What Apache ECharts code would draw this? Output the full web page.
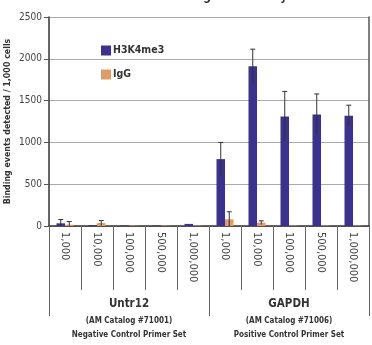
<!DOCTYPE html>
<html><head><meta charset="utf-8">
<script src="https://cdn.jsdelivr.net/npm/echarts@6/dist/echarts.min.js"></script>
<style>html,body{margin:0;padding:0;background:#fff}#c{width:372px;height:345px}</style>
</head><body><div id="c"></div>
<script>
var categories = ['1,000','10,000','100,000','500,000','1,000,000','1,000','10,000','100,000','500,000','1,000,000'];
var groups = ['Untr12','GAPDH'];
var groupCatalog = ['(AM Catalog #71001)','(AM Catalog #71006)'];
var groupDesc = ['Negative Control Primer Set','Positive Control Primer Set'];
var h3k4me3 = [32, 10, 6, 6, 25, 800, 1910, 1310, 1335, 1320];
var h3k4me3Err = [45, 0, 0, 0, 0, 200, 205, 300, 245, 125];
var igg = [15, 35, 5, 5, 5, 80, 40, 5, 5, 5];
var iggErr = [38, 30, 0, 0, 0, 90, 22, 0, 0, 0];
var yTicks = [0, 500, 1000, 1500, 2000, 2500];

var FONT = '"Liberation Sans Narrow", "DejaVu Sans Condensed", "Liberation Sans", sans-serif';
var BW = 8.5;
function errSeries(vals, errs, dx) {
  return {
    type: 'custom',
    xAxisIndex: 0, yAxisIndex: 0,
    z: 5,
    data: vals.map(function (v, i) { return [i, v, errs[i]]; }),
    renderItem: function (params, api) {
      var e = api.value(2);
      if (!e) return null;
      var v = api.value(1);
      var top = api.coord([api.value(0), v + e]);
      var bot = api.coord([api.value(0), Math.max(0, v - e)]);
      var x = top[0] + dx;
      var style = { stroke: '#333', lineWidth: 1 };
      return { type: 'group', children: [
        { type: 'line', shape: { x1: x, y1: top[1], x2: x, y2: bot[1] }, style: style },
        { type: 'line', shape: { x1: x - 2.5, y1: top[1], x2: x + 2.5, y2: top[1] }, style: style }
      ]};
    }
  };
}
var chart = echarts.init(document.getElementById('c'));
chart.setOption({
  animation: false,
  title: { text: 'ChIP-IT\u00ae High Sensitivity', left: 205, textAlign: 'center', top: -14,
    textStyle: { fontFamily: FONT, fontSize: 12, fontWeight: 'bold', color: '#333' } },
  legend: { orient: 'vertical', left: 96, top: 40, itemWidth: 10, itemHeight: 10, itemGap: 13,
    icon: 'rect', data: ['H3K4me3', 'IgG'],
    textStyle: { fontFamily: FONT, fontSize: 10.5, fontWeight: 'bold', color: '#333', padding: [0,0,0,-3] } },
  grid: { left: 49, right: 3, top: 17, bottom: 119, containLabel: false, outerBoundsMode: 'none' },
  xAxis: [{
    type: 'category', data: categories, position: 'bottom',
    axisLine: { lineStyle: { color: '#333', width: 1.5 } },
    axisTick: { show: true, length: 64, lineStyle: { color: '#666' } },
    axisLabel: { interval: 0, rotate: -90, margin: 6, fontFamily: FONT, fontSize: 11, color: '#444' }
  }, {
    type: 'category', data: groups, position: 'bottom',
    axisLine: { show: false },
    axisTick: { show: true, length: 90, lineStyle: { color: '#666' } },
    axisLabel: { interval: 0, margin: 68, fontFamily: FONT, color: '#333',
      formatter: function (v, i) { return '{a|' + v + '}\n{b|' + groupCatalog[i] + '}\n{b|' + groupDesc[i] + '}'; },
      rich: { a: { fontSize: 11.5, fontWeight: 'bold', lineHeight: 20, fontFamily: FONT, color: '#333' },
              b: { fontSize: 8, fontWeight: 'bold', lineHeight: 14, fontFamily: FONT, color: '#333' } } }
  }],
  yAxis: [{
    type: 'value', min: 0, max: 2500, interval: 500,
    name: 'Binding events detected / 1,000 cells', nameLocation: 'middle', nameGap: 37,
    nameMoveOverlap: false,
    nameTextStyle: { fontFamily: FONT, fontSize: 8.8, fontWeight: 'bold', color: '#333' },
    axisLine: { show: true, lineStyle: { color: '#333', width: 1.5 } },
    axisTick: { show: true, length: 5, lineStyle: { color: '#555' } },
    axisLabel: { fontFamily: FONT, fontSize: 10, color: '#444', margin: 7,
      formatter: function (v) { return yTicks.indexOf(v) >= 0 ? String(v) : ''; } },
    splitLine: { lineStyle: { color: '#aaa', width: 1.2 } }
  }, {
    type: 'value', min: 0, max: 2500, interval: 500, position: 'right',
    axisLine: { show: true, lineStyle: { color: '#555', width: 1.5 } },
    axisTick: { show: false }, axisLabel: { show: false }, splitLine: { show: false }
  }],
  series: [
    { name: 'H3K4me3', type: 'bar', data: h3k4me3, barWidth: BW, barGap: '0%',
      itemStyle: { color: '#3b3290' } },
    { name: 'IgG', type: 'bar', data: igg, barWidth: BW, barGap: '0%',
      itemStyle: { color: '#e09b66' } },
    errSeries(h3k4me3, h3k4me3Err, -BW / 2),
    errSeries(igg, iggErr, BW / 2)
  ]
});
</script></body></html>
